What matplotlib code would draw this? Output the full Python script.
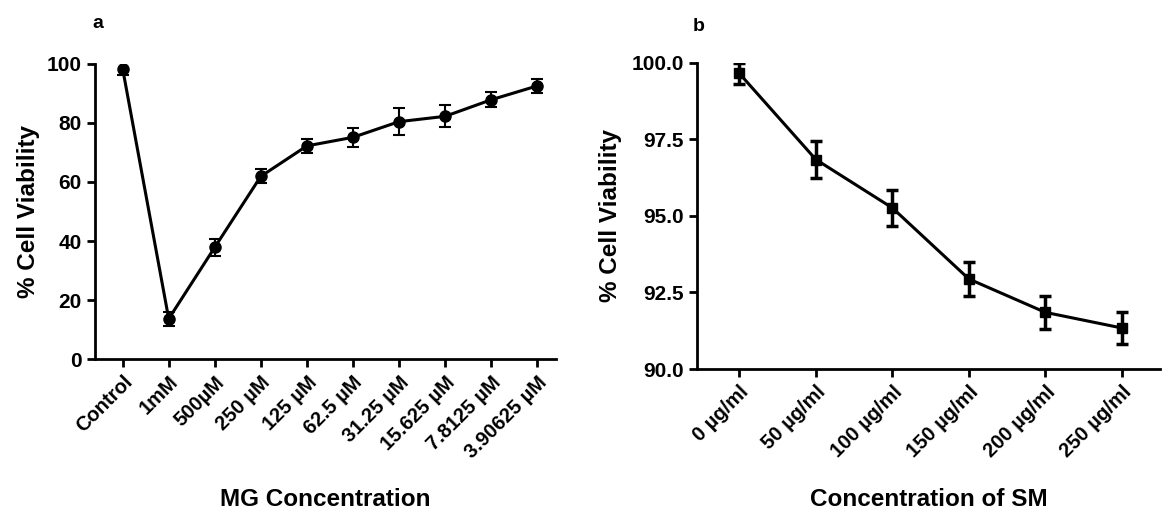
import matplotlib
matplotlib.use('Agg')
import matplotlib.pyplot as plt

# panel a data
mg_labels = ['Control', '1mM', '500\u00b5M', '250 \u00b5M', '125 \u00b5M', '62.5 \u00b5M',
             '31.25 \u00b5M', '15.625 \u00b5M', '7.8125 \u00b5M', '3.90625 \u00b5M']
mg_viability = [98.3, 13.7, 37.9, 61.9, 72.2, 75.1, 80.4, 82.2, 87.8, 92.5]
mg_err = [2.0, 2.4, 2.8, 2.4, 2.5, 3.3, 4.6, 3.7, 2.5, 2.3]

# panel b data
sm_labels = ['0 \u00b5g/ml', '50 \u00b5g/ml', '100 \u00b5g/ml', '150 \u00b5g/ml',
             '200 \u00b5g/ml', '250 \u00b5g/ml']
sm_viability = [99.65, 96.84, 95.26, 92.94, 91.85, 91.34]
sm_err = [0.33, 0.6, 0.6, 0.54, 0.54, 0.53]

fam = ['Liberation Sans', 'DejaVu Sans']
plt.rcParams['font.family'] = fam
plt.rcParams['font.weight'] = 'bold'

fig = plt.figure(figsize=(11.66, 5.14), dpi=100)
ax1 = fig.add_axes([0.0815, 0.301, 0.395, 0.575])
ax2 = fig.add_axes([0.598, 0.282, 0.397, 0.596])


def style_axis(ax):
    for s in ['top', 'right']:
        ax.spines[s].set_visible(False)
    for s in ['left', 'bottom']:
        ax.spines[s].set_linewidth(2)
    ax.tick_params(direction='out', length=6, width=2)
    ax.tick_params(axis='y', labelsize=15)
    for lab in ax.get_yticklabels():
        lab.set_fontweight('bold')


x1 = list(range(len(mg_labels)))
ax1.errorbar(x1, mg_viability, yerr=mg_err, color='black', lw=2.2, marker='o',
             markersize=8, capsize=4, elinewidth=1.5, capthick=1.5)
ax1.set_xlim(-0.6, 9.4)
ax1.set_ylim(0, 100)
ax1.set_yticks([0, 20, 40, 60, 80, 100])
ax1.set_xticks(x1)
ax1.set_xticklabels(mg_labels, rotation=45, ha='right', rotation_mode='anchor',
                    fontweight='bold', fontsize=14.5)
style_axis(ax1)
ax1.set_ylabel('% Cell Viability', fontsize=17.5, fontweight='bold')
ax1.yaxis.set_label_coords(-0.12, 0.5)
ax1.set_xlabel('MG Concentration', fontsize=17.5, fontweight='bold')
ax1.xaxis.set_label_coords(0.5, -0.436)
fig.text(0.079, 0.945, 'a', fontsize=14, fontweight='bold')

x2 = list(range(len(sm_labels)))
ax2.errorbar(x2, sm_viability, yerr=sm_err, color='black', lw=2.2, marker='s',
             markersize=7, capsize=4, elinewidth=2.5, capthick=2.5)
ax2.set_xlim(-0.55, 5.5)
ax2.set_ylim(90, 100)
ax2.set_yticks([90, 92.5, 95, 97.5, 100])
ax2.set_yticklabels(['90.0', '92.5', '95.0', '97.5', '100.0'])
ax2.set_xticks(x2)
ax2.set_xticklabels(sm_labels, rotation=45, ha='right', rotation_mode='anchor',
                    fontweight='bold', fontsize=14.5)
style_axis(ax2)
ax2.set_ylabel('% Cell Viability', fontsize=17.5, fontweight='bold')
ax2.yaxis.set_label_coords(-0.163, 0.5)
ax2.set_xlabel('Concentration of SM', fontsize=17.5, fontweight='bold')
ax2.xaxis.set_label_coords(0.5, -0.389)
fig.text(0.594, 0.94, 'b', fontsize=14, fontweight='bold')

fig.savefig('out.png', dpi=100, facecolor='white')
